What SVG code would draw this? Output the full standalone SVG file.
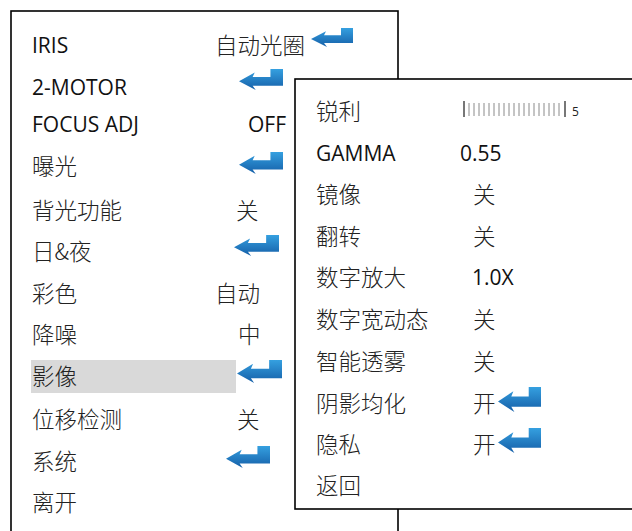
<svg xmlns="http://www.w3.org/2000/svg" xmlns:xlink="http://www.w3.org/1999/xlink" width="632" height="531" viewBox="0 0 632 531">
<style>
.lat{font-family:"Open Sans","Noto Sans CJK SC",sans-serif;font-size:21px;fill:#111}
.cjk{font-family:"Noto Sans CJK SC","Noto Sans",sans-serif;font-size:22.5px;fill:#222;font-weight:300}
.box{fill:#fff;stroke:#000;stroke-width:1.6}
.tick{stroke:#8a8a8a;stroke-width:1}
.bar{stroke:#777;stroke-width:2}
.small{font-family:"Open Sans",sans-serif;font-size:12px;fill:#222}
</style>
<defs>
<linearGradient id="ag" x1="0" y1="0" x2="0" y2="1">
<stop offset="0" stop-color="#35a0e0"/>
<stop offset="1" stop-color="#155fa8"/>
</linearGradient>
<symbol id="arr" viewBox="0 0 42 24" preserveAspectRatio="none">
<path d="M0,14 L15,4 L13,9 L30,9 L30,0 L42,0 L42,19 L13,19 L16,24 Z" fill="url(#ag)"/>
</symbol>
</defs>
<rect width="632" height="531" fill="#fff"/>
<rect class="box" x="11" y="11" width="387" height="600"/>
<g id="left-menu">
<g id="l-iris"><text class="lat" x="32" y="53">IRIS</text><text class="cjk" x="215" y="54">自动光圈</text><use xlink:href="#arr" x="311" y="28" width="42" height="19"/></g>
<g id="l-2motor"><text class="lat" x="32" y="95">2-MOTOR</text><use xlink:href="#arr" x="239" y="69" width="44" height="21"/></g>
<g id="l-focus"><text class="lat" x="32" y="132">FOCUS ADJ</text><text class="lat" x="248" y="132">OFF</text></g>
<g id="l-exposure"><text class="cjk" x="32" y="175">曝光</text><use xlink:href="#arr" x="239" y="152" width="44" height="22"/></g>
<g id="l-backlight"><text class="cjk" x="32" y="219">背光功能</text><text class="cjk" x="236" y="219">关</text></g>
<g id="l-daynight"><text class="cjk" x="32" y="260">日&amp;夜</text><use xlink:href="#arr" x="234" y="235" width="45" height="21"/></g>
<g id="l-color"><text class="cjk" x="32" y="302">彩色</text><text class="cjk" x="215" y="302">自动</text></g>
<g id="l-noise"><text class="cjk" x="32" y="343">降噪</text><text class="cjk" x="238" y="343">中</text></g>
<g id="l-image"><rect x="31" y="360" width="205" height="33" fill="#d9d9d9"/><text class="cjk" x="32" y="385">影像</text><use xlink:href="#arr" x="237" y="360" width="45" height="23"/></g>
<g id="l-motion"><text class="cjk" x="32" y="428">位移检测</text><text class="cjk" x="237" y="428">关</text></g>
<g id="l-system"><text class="cjk" x="32" y="470">系统</text><use xlink:href="#arr" x="226" y="446" width="44" height="22"/></g>
<g id="l-exit"><text class="cjk" x="32" y="511">离开</text></g>
</g>
<rect class="box" x="295" y="79" width="400" height="430"/>
<g id="right-menu">
<g id="r-sharp"><text class="cjk" x="316" y="120">锐利</text>
<g id="slider">
<line class="bar" x1="464" y1="101" x2="464" y2="117"/>
<line class="bar" x1="565" y1="101" x2="565" y2="117"/>
<path class="tick" d="M469,103V116M474,103V116M479,103V116M484,103V116M489,103V116M494,103V116M499,103V116M504,103V116M509,103V116M514,103V116M519,103V116M524,103V116M529,103V116M534,103V116M539,103V116M544,103V116M549,103V116M554,103V116M559,103V116"/>
</g>
<text class="small" x="572" y="116">5</text></g>
<g id="r-gamma"><text class="lat" x="316" y="161">GAMMA</text><text class="lat" x="460" y="161">0.55</text></g>
<g id="r-mirror"><text class="cjk" x="316" y="203">镜像</text><text class="cjk" x="473" y="203">关</text></g>
<g id="r-flip"><text class="cjk" x="316" y="245">翻转</text><text class="cjk" x="473" y="245">关</text></g>
<g id="r-zoom"><text class="cjk" x="316" y="286">数字放大</text><text class="lat" x="472" y="285">1.0X</text></g>
<g id="r-wdr"><text class="cjk" x="316" y="328">数字宽动态</text><text class="cjk" x="473" y="328">关</text></g>
<g id="r-defog"><text class="cjk" x="316" y="370">智能透雾</text><text class="cjk" x="473" y="370">关</text></g>
<g id="r-shading"><text class="cjk" x="316" y="412">阴影均化</text><text class="cjk" x="473" y="412">开</text><use xlink:href="#arr" x="498" y="387" width="43" height="25"/></g>
<g id="r-privacy"><text class="cjk" x="316" y="453">隐私</text><text class="cjk" x="473" y="453">开</text><use xlink:href="#arr" x="498" y="428" width="43" height="25"/></g>
<g id="r-back"><text class="cjk" x="316" y="494">返回</text></g>
</g>
</svg>
